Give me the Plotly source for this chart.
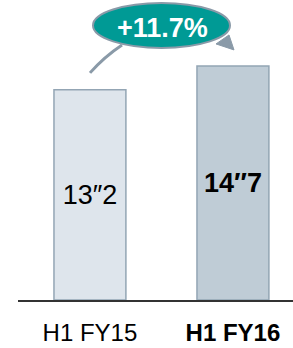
import plotly.graph_objects as go

categories = ["H1 FY15", "H1 FY16"]
values = [13.2, 14.7]
value_labels = ["13″2", "<b>14″7</b>"]
tick_labels = ["H1 FY15", "<b>H1 FY16</b>"]
growth_label = "+11.7%"

W, H = 293, 348
L, R, T, B = 18, 0, 0, 47.5
PW, PH = W - L - R, H - T - B

def px(x, y):
    return (x - L) / PW, (H - B - y) / PH

fig = go.Figure()
fig.add_trace(go.Bar(
    x=[0, 1], y=values, width=0.503,
    marker=dict(color=["#dee5ec", "#bfccd6"], line=dict(color="#93a5b4", width=1.5)),
    text=value_labels, textposition="inside", insidetextanchor="middle",
    textangle=0, constraintext="none",
    textfont=dict(family="Arial, Liberation Sans", size=27, color="#000000"),
    hoverinfo="skip",
))

shapes = []
# curved connector
x0, y0 = px(90, 73); cx, cy = px(104, 57); x1, y1 = px(122, 45)
shapes.append(dict(type="path", xref="paper", yref="paper",
                   path=f"M {x0},{y0} Q {cx},{cy} {x1},{y1}",
                   line=dict(color="#8a9aa8", width=3)))
# arrow head
a = px(216, 44); b = px(229, 35); c = px(234, 50)
shapes.append(dict(type="path", xref="paper", yref="paper",
                   path=f"M {a[0]},{a[1]} L {b[0]},{b[1]} L {c[0]},{c[1]} Z",
                   fillcolor="#8a9aa8", line=dict(color="#8a9aa8", width=1)))
# ellipse
e0 = px(93, 48); e1 = px(230, 3)
shapes.append(dict(type="circle", xref="paper", yref="paper",
                   x0=e0[0], y0=e0[1], x1=e1[0], y1=e1[1],
                   fillcolor="#009a95", line=dict(color="#8a9aa8", width=2)))

ex, ey = px(162, 28)
fig.add_annotation(x=ex, y=ey, xref="paper", yref="paper", text=f"<b>{growth_label}</b>",
                   showarrow=False, font=dict(family="Arial, Liberation Sans", size=27, color="#ffffff"),
                   xanchor="center", yanchor="middle")

fig.update_layout(
    width=W, height=H, margin=dict(l=L, r=R, t=T, b=B, autoexpand=False),
    paper_bgcolor="white", plot_bgcolor="white", showlegend=False,
    shapes=shapes,
    xaxis=dict(range=[-0.503, 1.42], tickvals=[0, 1], ticktext=tick_labels,
               showline=True, linecolor="#333333", linewidth=2, showgrid=False, zeroline=False,
               ticks="outside", ticklen=10, tickcolor="rgba(0,0,0,0)", automargin=False,
               tickfont=dict(family="Arial, Liberation Sans", size=24, color="#000000"),
               fixedrange=True),
    yaxis=dict(range=[0, 18.84], visible=False, fixedrange=True, automargin=False),
)
fig.write_html("out.html", config={"displayModeBar": False},
               post_script="document.body.style.margin='0';document.body.style.padding='0';document.documentElement.style.overflow='hidden';")
